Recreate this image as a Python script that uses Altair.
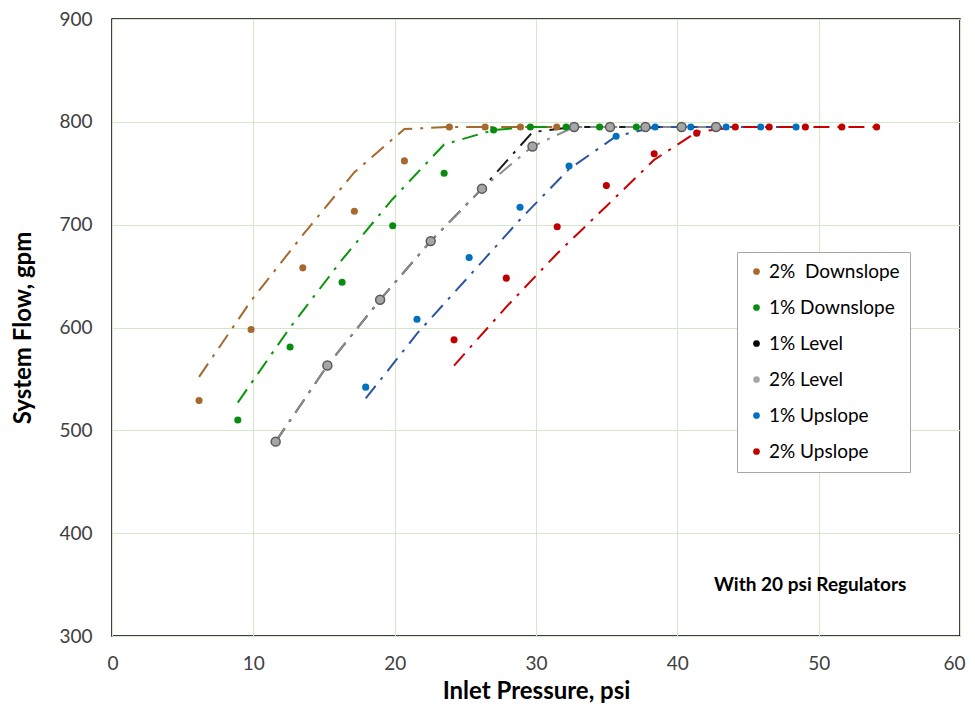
import altair as alt
import pandas as pd

NB = "\u00a0"
series_names = ["2%" + NB + " Downslope", NB + "1% Downslope", "1% Level", "2% Level", "1% Upslope", "2% Upslope"]
point_colors = ["#A5692E", "#078C0F", "#000000", "#A6A6A6", "#0070C0", "#C00000"]
line_colors = ["#A5692E", "#0A960A", "#1A1A1A", "#8C8C8C", "#2E54A0", "#CC0000"]

# 2% Downslope
bd_x = [6.16, 9.84, 13.5, 17.15, 20.69, 23.87, 26.4, 28.9, 31.47]
bd_y = [529, 598, 658, 713, 762, 795, 795, 795, 795]
bd_line = [552, 626, 690, 751, 793, 795, 795, 795, 795]

# 1% Downslope
gd_x = [8.9, 12.6, 16.28, 19.86, 23.5, 27.0, 29.6, 32.13, 34.5, 37.1]
gd_y = [510, 581, 644, 699, 750, 792, 795, 795, 795, 795]
gd_line = [527, 600, 666, 725, 778, 792, 795, 795, 795, 795]

# 1% Level
l1_x = [11.58, 15.24, 18.97, 22.55, 26.18, 29.75, 32.7, 35.24, 37.74, 40.3, 42.74]
l1_y = [489, 563, 627, 684, 735, 776, 795, 795, 795, 795, 795]
l1_line = [489, 563, 627, 684, 735, 790, 795, 795, 795, 795, 795]

# 2% Level
l2_x = [11.58, 15.24, 18.97, 22.55, 26.18, 29.75, 32.7, 35.24, 37.74, 40.3, 42.74]
l2_y = [489, 563, 627, 684, 735, 776, 795, 795, 795, 795, 795]
l2_line = [489, 563, 627, 684, 735, 776, 795, 795, 795, 795, 795]

# 1% Upslope
u1_x = [17.95, 21.58, 25.27, 28.87, 32.34, 35.67, 38.43, 40.95, 43.45, 45.9, 48.4]
u1_y = [542, 608, 668, 717, 757, 786, 795, 795, 795, 795, 795]
u1_line = [531, 594, 650, 705, 754, 786, 795, 795, 795, 795, 795]

# 2% Upslope
u2_x = [24.2, 27.9, 31.5, 34.98, 38.36, 41.37, 44.1, 46.5, 49.06, 51.64, 54.1]
u2_y = [588, 648, 698, 738, 769, 789, 795, 795, 795, 795, 795]
u2_line = [563, 620, 672, 718, 763, 790, 795, 795, 795, 795, 795]

note_text = ["With 20 psi Regulators"]
note_x = [49.4]
note_y = [350]

all_series = [
    (bd_x, bd_y, bd_line),
    (gd_x, gd_y, gd_line),
    (l1_x, l1_y, l1_line),
    (l2_x, l2_y, l2_line),
    (u1_x, u1_y, u1_line),
    (u2_x, u2_y, u2_line),
]

rows = []
for name, (xs, ys, ls) in zip(series_names, all_series):
    for i, (xv, yv, lv) in enumerate(zip(xs, ys, ls)):
        rows.append({"series": name, "idx": i, "x": xv, "y": yv, "ly": lv})
df = pd.DataFrame(rows)
df_gray = df[df["series"] == "2% Level"]
df_note = pd.DataFrame({"t": note_text, "x": note_x, "y": note_y})

xenc = alt.X("x:Q", scale=alt.Scale(domain=[0, 60], nice=False),
             axis=alt.Axis(values=[0, 10, 20, 30, 40, 50, 60], title="Inlet Pressure, psi",
                           labelFlush=True, labelFlushOffset=5))
yscale = alt.Scale(domain=[300, 900], nice=False)
yaxis = alt.Axis(values=[300, 400, 500, 600, 700, 800, 900], title="System Flow, gpm",
                 labelFlush=False)

lines = alt.Chart(df).mark_line(strokeWidth=2, strokeDash=[16, 8, 3, 8]).encode(
    x=xenc,
    y=alt.Y("ly:Q", scale=yscale, axis=yaxis),
    color=alt.Color("series:N", scale=alt.Scale(domain=series_names, range=line_colors), legend=None),
    order=alt.Order("idx:Q"),
)

points = alt.Chart(df).mark_circle(size=50, opacity=1).encode(
    x=xenc,
    y=alt.Y("y:Q", scale=yscale, axis=yaxis),
    color=alt.Color("series:N", scale=alt.Scale(domain=series_names, range=point_colors),
                    legend=alt.Legend(title=None)),
)

gray_pts = alt.Chart(df_gray).mark_circle(size=80, opacity=1, color="#A6A6A6",
                                          stroke="#595959", strokeWidth=1.5).encode(
    x=xenc, y=alt.Y("y:Q", scale=yscale, axis=yaxis)
)

note = alt.Chart(df_note).mark_text(font="Lato", fontSize=19, fontWeight="bold", color="black").encode(
    x=xenc, y=alt.Y("y:Q", scale=yscale, axis=yaxis), text="t:N"
)

chart = alt.layer(lines, points, gray_pts, note).resolve_scale(color="independent").properties(
    width=848, height=617,
    autosize=alt.AutoSizeParams(type="none"),
    padding={"left": 104, "top": 11, "right": 7, "bottom": 70},
).configure_view(
    stroke="black", strokeWidth=1.5
).configure_axis(
    grid=True, gridColor="#D3E8C6", gridWidth=1,
    domain=False, ticks=False,
    labelFont="Lato", labelFontSize=19, labelColor="#404040",
    titleFont="Lato", titleFontSize=24, titleFontWeight="bold", titleColor="black",
).configure_axisY(
    labelPadding=20, titlePadding=23,
).configure_axisX(
    labelPadding=18, titlePadding=6,
).configure_legend(
    orient="none", legendX=625, legendY=233,
    padding=10, rowPadding=16,
    strokeColor="#A6A6A6", fillColor="white",
    symbolType="circle", symbolSize=45, symbolStrokeWidth=0,
    labelFont="Lato", labelFontSize=19, labelColor="black", labelOffset=3,
)

chart.save("out.html", embed_options={"renderer": "svg", "actions": False})
